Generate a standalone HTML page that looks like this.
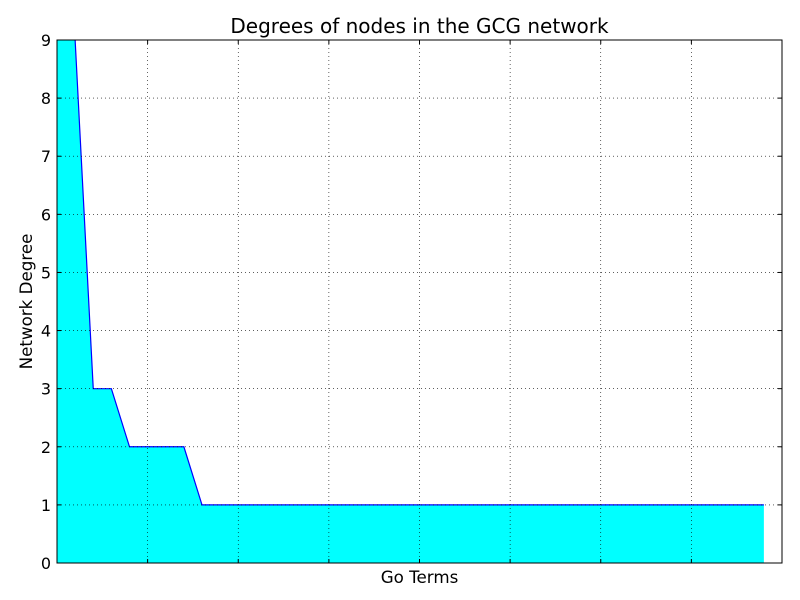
<!DOCTYPE html>
<html><head><meta charset="utf-8"><style>
body{margin:0;background:#fff;}
svg{display:block;font-family:"DejaVu Sans","Liberation Sans",sans-serif;}
</style></head><body>
<svg id="c" width="800" height="600"></svg>
<script>
const values=[12,9,3,3,2,2,2,2,1,1,1,1,1,1,1,1,1,1,1,1,1,1,1,1,1,1,1,1,1,1,1,1,1,1,1,1,1,1,1,1];
const xStep=0.2;
const yTicks=[0,1,2,3,4,5,6,7,8,9];
const xTicks=[1,2,3,4,5,6,7];
const L=57,R=782,T=40,B=563,xMin=0,xMax=8,yMin=0,yMax=9;
const sx=v=>L+(v-xMin)/(xMax-xMin)*(R-L);
const sy=v=>B-(v-yMin)/(yMax-yMin)*(B-T);
const NS="http://www.w3.org/2000/svg";
const svg=document.getElementById('c');
function mk(t,a,p){const e=document.createElementNS(NS,t);for(const k in a)e.setAttribute(k,a[k]);(p||svg).appendChild(e);return e;}
const defs=mk('defs',{});
const cp=mk('clipPath',{id:'clip'},defs);mk('rect',{x:L,y:T,width:R-L,height:B-T},cp);
const bg=mk('rect',{x:L,y:T,width:R-L,height:B-T,fill:'#fff'});


const g=mk('g',{'clip-path':'url(#clip)'});
let pts=values.map((v,i)=>sx(i*xStep)+','+sy(v));
const fill=mk('polygon',{points:sx(0)+','+sy(0)+' '+pts.join(' ')+' '+sx((values.length-1)*xStep)+','+sy(0),fill:'#00ffff',stroke:'none'},g);


const line=mk('polyline',{points:pts.join(' '),fill:'none',stroke:'#0000ff','stroke-width':1.2},g);


yTicks.forEach(t=>{
  const y=sy(t);
  if(t>yMin&&t<yMax){const gl=mk('line',{x1:L,x2:R,y1:y,y2:y,stroke:'#000','stroke-width':0.6,'stroke-dasharray':'1,3'});
  }
  mk('line',{x1:L,x2:L+4,y1:y,y2:y,stroke:'#000'});
  mk('line',{x1:R,x2:R-4,y1:y,y2:y,stroke:'#000'});
  const tx=mk('text',{x:L-6,y:y+6,'text-anchor':'end','font-size':16});tx.textContent=t;
  
});
xTicks.forEach(t=>{
  const x=sx(t);
  const gl=mk('line',{x1:x,x2:x,y1:T,y2:B,stroke:'#000','stroke-width':0.6,'stroke-dasharray':'1,3'});
  
  mk('line',{x1:x,x2:x,y1:B,y2:B-4,stroke:'#000'});
  mk('line',{x1:x,x2:x,y1:T,y2:T+4,stroke:'#000'});
});
const fr=mk('rect',{x:L,y:T,width:R-L,height:B-T,fill:'none',stroke:'#000','stroke-width':1});

const ti=mk('text',{x:(L+R)/2,y:33,'text-anchor':'middle','font-size':20});ti.textContent='Degrees of nodes in the GCG network';

const xl=mk('text',{x:(L+R)/2,y:583,'text-anchor':'middle','font-size':16.7});xl.textContent='Go Terms';

const yl=mk('text',{x:32,y:(T+B)/2,'text-anchor':'middle','font-size':16.7,transform:'rotate(-90 32 '+((T+B)/2)+')'});yl.textContent='Network Degree';

</script>
</body></html>
